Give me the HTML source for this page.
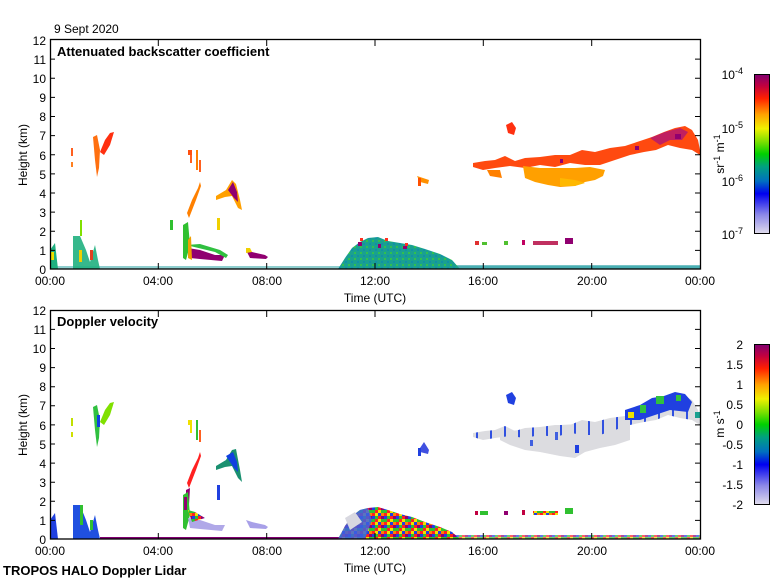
<!DOCTYPE html>
<html><head><meta charset="utf-8"><style>
body{margin:0;background:#fff;}
svg{display:block;font-family:"Liberation Sans",sans-serif;}
</style></head><body>
<svg width="780" height="580" viewBox="0 0 780 580" xmlns="http://www.w3.org/2000/svg">
<defs>
<linearGradient id="cb1" x1="0" y1="1" x2="0" y2="0">
<stop offset="0" stop-color="#e0dcec"/><stop offset="0.12" stop-color="#8a86e8"/><stop offset="0.25" stop-color="#0000f0"/><stop offset="0.33" stop-color="#0070c0"/><stop offset="0.42" stop-color="#00a080"/><stop offset="0.5" stop-color="#00d000"/><stop offset="0.58" stop-color="#80e000"/><stop offset="0.66" stop-color="#f0f000"/><stop offset="0.75" stop-color="#ffa000"/><stop offset="0.85" stop-color="#ff2000"/><stop offset="0.93" stop-color="#c00040"/><stop offset="1" stop-color="#800070"/>
</linearGradient>
<pattern id="mix" width="12" height="9" patternUnits="userSpaceOnUse">
<rect width="12" height="9" fill="#30c030"/>
<rect x="0" y="0" width="3" height="3" fill="#ff2020"/><rect x="3" y="0" width="3" height="3" fill="#f0e000"/><rect x="6" y="0" width="3" height="3" fill="#2040e0"/><rect x="9" y="0" width="3" height="3" fill="#ff8000"/>
<rect x="0" y="3" width="3" height="3" fill="#2040e0"/><rect x="6" y="3" width="3" height="3" fill="#ff2020"/><rect x="9" y="3" width="3" height="3" fill="#900070"/>
<rect x="3" y="6" width="3" height="3" fill="#ff2020"/><rect x="6" y="6" width="3" height="3" fill="#f0e000"/>
</pattern>
<pattern id="teal" width="6" height="6" patternUnits="userSpaceOnUse">
<rect width="6" height="6" fill="#1aa090"/><rect x="0" y="0" width="2" height="2" fill="#30c050"/><rect x="3" y="3" width="2" height="2" fill="#1090a8"/>
</pattern>
<pattern id="bl" width="14" height="6" patternUnits="userSpaceOnUse">
<rect width="14" height="6" fill="#dcdce0"/><rect x="0" y="0" width="2" height="6" fill="#3050e0"/>
</pattern>
</defs>
<text x="54" y="33" font-size="12">9 Sept 2020</text>
<!-- TOP PANEL data -->
<g>
<rect x="50" y="266" width="650" height="3" fill="#20a0a0" opacity="0.5"/>
<rect x="425" y="265" width="275" height="4" fill="#1a9aa0" opacity="0.6"/>
<polygon points="93,137 97,135 100,150 99,168 97,177 95,160" fill="#ff7010"/>
<polygon points="100,152 105,140 110,133 114,132 110,145 104,155" fill="#ff3010"/>
<rect x="71" y="148" width="2" height="8" fill="#ff6020"/><rect x="71" y="162" width="2" height="5" fill="#ff8020"/>
<polygon points="187,213 192,200 198,188 200,182 201,186 196,200 189,218" fill="#ff8000"/>
<rect x="190" y="155" width="2" height="8" fill="#ff6020"/><rect x="196" y="150" width="2" height="20" fill="#ff8000"/><rect x="199" y="160" width="2" height="12" fill="#ff6020"/><rect x="188" y="150" width="4" height="5" fill="#ff5010"/>
<polygon points="216,196 226,190 232,180 236,184 240,200 242,210 238,208 232,196 225,197 216,200" fill="#ffa000"/>
<polygon points="228,190 233,182 237,192 238,202 234,198" fill="#900070"/>
<rect x="217" y="218" width="3" height="12" fill="#f0d000"/>
<polygon points="50,250 55,243 58,269 50,269" fill="#20b080"/>
<polygon points="51,252 54,252 54,260 51,260" fill="#f0e000"/>
<polygon points="73,236 80,236 86,250 90,262 95,245 98,260 100,269 73,269" fill="#20b080" opacity="0.9"/>
<rect x="79" y="250" width="3" height="12" fill="#f0d000"/><rect x="90" y="250" width="3" height="10" fill="#e04020"/>
<rect x="80" y="220" width="2" height="16" fill="#80e000"/>
<polygon points="183,225 188,222 190,245 186,260 183,258" fill="#30c030"/>
<polygon points="188,248 200,250 215,255 225,255 222,261 200,259 190,258" fill="#900070"/>
<polygon points="186,245 200,244 220,250 228,255 226,258 215,252" fill="#30c040"/>
<polygon points="188,240 191,236 192,260 188,258" fill="#f0a000"/>
<polygon points="246,250 252,252 265,255 268,257 266,259 250,258" fill="#900070"/>
<polygon points="246,248 250,248 252,252 246,253" fill="#f0d000"/>
<rect x="170" y="220" width="3" height="10" fill="#30c030"/>
<polygon points="338,269 345,258 352,248 360,242 368,238 378,237 388,241 400,243 412,245 425,249 440,254 452,260 460,269" fill="url(#teal)"/>
<g fill="#900070"><rect x="358" y="242" width="4" height="4"/><rect x="378" y="244" width="3" height="4"/><rect x="403" y="246" width="4" height="3"/></g>
<g fill="#ff3020"><rect x="360" y="238" width="3" height="3"/><rect x="385" y="238" width="3" height="3"/><rect x="405" y="243" width="3" height="3"/></g>
<polygon points="417,176 423,178 429,180 428,184 420,182" fill="#ff9000"/>
<rect x="418" y="178" width="3" height="8" fill="#ff5000"/>
<polygon points="473,163 485,161 495,160 505,156 515,161 525,158 540,157 555,155 570,155 582,150 595,152 610,148 625,146 640,141 652,137 664,132 675,128 685,126 692,130 698,140 700,150 700,155 692,150 680,148 668,145 656,150 644,152 630,155 615,160 600,165 585,165 570,163 555,167 540,165 525,168 510,166 495,168 483,170 473,167" fill="#ff4a10"/>
<polygon points="487,170 500,170 502,178 490,176" fill="#ff8000"/>
<polygon points="506,125 512,122 516,128 514,135 508,133" fill="#ff3010"/>
<polygon points="523,166 540,168 560,168 575,168 590,167 605,170 603,176 595,180 585,182 575,186 560,187 548,185 535,182 525,178" fill="#ffa000"/>
<polygon points="560,178 575,180 585,183 575,186 560,186" fill="#ffb800"/>
<polygon points="650,138 665,132 680,128 688,132 682,140 670,140 660,145" fill="#c02060"/>
<g fill="#900070"><rect x="635" y="146" width="4" height="4"/><rect x="675" y="134" width="6" height="5"/><rect x="560" y="159" width="3" height="4"/></g>
<g fill="#50c030"><rect x="475" y="241" width="4" height="4" fill="#e03030"/><rect x="482" y="242" width="5" height="3"/><rect x="504" y="241" width="4" height="4"/><rect x="522" y="240" width="3" height="5" fill="#c00060"/><rect x="533" y="241" width="25" height="4" fill="#c03060"/><rect x="565" y="238" width="8" height="6" fill="#900070"/></g>
</g>
<!-- top axes -->
<rect x="50.5" y="39.5" width="650" height="229.5" fill="none" stroke="#000" stroke-width="1.3"/>
<g stroke="#000" stroke-width="1">
<path d="M50,250.4h5M50,231.2h5M50,212.1h5M50,193h5M50,173.9h5M50,154.8h5M50,135.6h5M50,116.5h5M50,97.4h5M50,78.3h5M50,59.1h5"/>
<path d="M700,250.4h-5M700,231.2h-5M700,212.1h-5M700,193h-5M700,173.9h-5M700,154.8h-5M700,135.6h-5M700,116.5h-5M700,97.4h-5M700,78.3h-5M700,59.1h-5"/>
<path d="M158.3,269v-6M266.7,269v-6M375,269v-6M483.3,269v-6M591.7,269v-6M158.3,40v6M266.7,40v6M375,40v6M483.3,40v6M591.7,40v6"/>
</g>
<g font-size="12" text-anchor="end">
<text x="46" y="274">0</text><text x="46" y="255">1</text><text x="46" y="236">2</text><text x="46" y="217">3</text><text x="46" y="198">4</text><text x="46" y="179">5</text><text x="46" y="160">6</text><text x="46" y="140">7</text><text x="46" y="121">8</text><text x="46" y="102">9</text><text x="46" y="83">10</text><text x="46" y="64">11</text><text x="46" y="45">12</text>
</g>
<g font-size="12" text-anchor="middle">
<text x="50" y="285">00:00</text><text x="158" y="285">04:00</text><text x="267" y="285">08:00</text><text x="375" y="285">12:00</text><text x="483" y="285">16:00</text><text x="592" y="285">20:00</text><text x="700" y="285">00:00</text>
<text x="375" y="302">Time (UTC)</text>
</g>
<text x="27" y="155" font-size="12" text-anchor="middle" transform="rotate(-90 27 155)">Height (km)</text>
<text x="57" y="56" font-size="13" font-weight="bold">Attenuated backscatter coefficient</text>
<rect x="754.5" y="74.5" width="15" height="159" fill="url(#cb1)" stroke="#000"/>
<g font-size="12" text-anchor="end">
<text x="743" y="79">10<tspan dy="-5" font-size="9">-4</tspan></text>
<text x="743" y="133">10<tspan dy="-5" font-size="9">-5</tspan></text>
<text x="743" y="186">10<tspan dy="-5" font-size="9">-6</tspan></text>
<text x="743" y="239">10<tspan dy="-5" font-size="9">-7</tspan></text>
</g>
<text x="724" y="154" font-size="12" text-anchor="middle" transform="rotate(-90 724 154)">sr<tspan dy="-4" font-size="9">-1</tspan><tspan dy="4"> m</tspan><tspan dy="-4" font-size="9">-1</tspan></text>

<!-- BOTTOM PANEL data -->
<g>
<rect x="100" y="537" width="330" height="2" fill="#800070"/>
<rect x="430" y="535" width="270" height="4" fill="url(#mix)" opacity="0.7"/>
<polygon points="93,407 97,405 100,420 99,438 97,447 95,430" fill="#30c040"/>
<polygon points="100,422 105,410 110,403 114,402 110,415 104,425" fill="#80e000"/>
<rect x="97" y="415" width="3" height="12" fill="#1040e0"/>
<rect x="71" y="418" width="2" height="8" fill="#c0e000"/><rect x="71" y="432" width="2" height="5" fill="#d0e000"/>
<polygon points="187,483 192,470 198,458 200,452 201,456 196,470 189,488" fill="#ff2020"/>
<rect x="190" y="425" width="2" height="8" fill="#f0e000"/><rect x="196" y="420" width="2" height="20" fill="#30c030"/><rect x="199" y="430" width="2" height="12" fill="#ff6020"/><rect x="188" y="420" width="4" height="5" fill="#f0e000"/>
<polygon points="186,490 190,488 189,505 186,503" fill="#900070"/>
<polygon points="216,466 226,460 232,450 236,449 240,470 242,482 238,478 232,466 225,467 216,470" fill="#1a9070"/>
<polygon points="226,456 233,452 237,462 238,472 234,468" fill="#1040e0"/>
<rect x="217" y="485" width="3" height="15" fill="#2040e0"/>
<polygon points="50,520 55,513 58,539 50,539" fill="#2040e0"/>
<polygon points="73,505 80,505 86,520 90,532 95,515 98,530 100,539 73,539" fill="#2050e0"/>
<rect x="80" y="505" width="3" height="20" fill="#30c030"/><rect x="90" y="520" width="3" height="10" fill="#30c030"/>
<polygon points="183,495 188,492 190,515 186,530 183,528" fill="#30c030"/>
<polygon points="184,497 187,497 187,510 184,510" fill="#900070"/>
<polygon points="188,518 200,520 215,525 225,525 222,531 200,529 190,528" fill="#b0a8e8"/>
<polygon points="188,510 195,512 205,518 192,522" fill="url(#mix)"/>
<polygon points="246,520 252,522 265,525 268,527 266,529 250,528" fill="#a8a0e8"/>
<polygon points="338,539 345,526 352,516 360,510 368,508 378,507 388,510 400,514 412,517 425,522 440,527 452,532 460,539" fill="url(#mix)"/>
<polygon points="338,539 345,526 352,516 360,510 368,508 372,520 365,539" fill="#4060e0" opacity="0.85"/>
<polygon points="345,518 355,512 362,522 350,530" fill="#d8d8e0"/>
<polygon points="420,448 424,442 429,450 428,454 420,452" fill="#4050e0"/>
<rect x="418" y="448" width="3" height="8" fill="#2040e0"/>
<polygon points="500,432 520,430 540,428 560,425 580,424 600,422 620,418 630,417 630,440 615,445 600,448 585,452 575,458 560,456 540,452 525,450 510,445 500,440" fill="#dcdce0"/>
<polygon points="473,433 485,431 495,430 505,426 515,431 525,428 540,427 555,425 570,425 582,420 595,422 610,418 625,416 640,411 652,407 664,402 675,398 685,396 692,400 698,410 700,420 700,425 692,420 680,418 668,415 656,420 644,422 630,425 615,430 600,435 585,435 570,433 555,437 540,435 525,438 510,436 495,438 483,440 473,437" fill="url(#bl)"/>
<rect x="575" y="445" width="4" height="8" fill="#2040e0"/><rect x="530" y="440" width="3" height="6" fill="#4060e0"/><rect x="555" y="432" width="3" height="8" fill="#4060e0"/>
<polygon points="506,395 512,392 516,398 514,405 508,403" fill="#2040e0"/>
<polygon points="625,410 640,405 652,398 664,396 675,392 685,394 692,402 688,412 670,410 655,415 640,420 625,420" fill="#2040e0"/>
<g fill="#30c040"><rect x="640" y="405" width="6" height="8"/><rect x="656" y="396" width="8" height="8"/><rect x="676" y="395" width="5" height="6"/><rect x="695" y="412" width="5" height="6" fill="#1aa090"/></g>
<rect x="628" y="412" width="6" height="6" fill="#f0e000"/>
<g><rect x="475" y="511" width="3" height="4" fill="#c00040"/><rect x="480" y="511" width="8" height="4" fill="#30c030"/><rect x="504" y="511" width="4" height="4" fill="#900070"/><rect x="522" y="510" width="3" height="5" fill="#c00040"/><rect x="533" y="511" width="25" height="4" fill="url(#mix)"/><rect x="565" y="508" width="8" height="6" fill="#30c030"/></g>
</g>
<rect x="50.5" y="310.5" width="650" height="228.5" fill="none" stroke="#000" stroke-width="1.3"/>
<g stroke="#000" stroke-width="1">
<path d="M50,520.4h5M50,501.3h5M50,482.2h5M50,463.1h5M50,444h5M50,424.9h5M50,405.8h5M50,386.7h5M50,367.6h5M50,348.5h5M50,329.4h5"/>
<path d="M700,520.4h-5M700,501.3h-5M700,482.2h-5M700,463.1h-5M700,444h-5M700,424.9h-5M700,405.8h-5M700,386.7h-5M700,367.6h-5M700,348.5h-5M700,329.4h-5"/>
<path d="M158.3,539v-6M266.7,539v-6M375,539v-6M483.3,539v-6M591.7,539v-6M158.3,311v6M266.7,311v6M375,311v6M483.3,311v6M591.7,311v6"/>
</g>
<g font-size="12" text-anchor="end">
<text x="46" y="544">0</text><text x="46" y="525">1</text><text x="46" y="506">2</text><text x="46" y="487">3</text><text x="46" y="468">4</text><text x="46" y="449">5</text><text x="46" y="430">6</text><text x="46" y="410">7</text><text x="46" y="391">8</text><text x="46" y="372">9</text><text x="46" y="353">10</text><text x="46" y="334">11</text><text x="46" y="315">12</text>
</g>
<g font-size="12" text-anchor="middle">
<text x="50" y="555">00:00</text><text x="158" y="555">04:00</text><text x="267" y="555">08:00</text><text x="375" y="555">12:00</text><text x="483" y="555">16:00</text><text x="592" y="555">20:00</text><text x="700" y="555">00:00</text>
<text x="375" y="572">Time (UTC)</text>
</g>
<text x="27" y="425" font-size="12" text-anchor="middle" transform="rotate(-90 27 425)">Height (km)</text>
<text x="57" y="326" font-size="13" font-weight="bold">Doppler velocity</text>
<text x="3" y="575" font-size="13" font-weight="bold">TROPOS HALO Doppler Lidar</text>
<rect x="754.5" y="344.5" width="15" height="160" fill="url(#cb1)" stroke="#000"/>
<g font-size="12" text-anchor="end">
<text x="743" y="349">2</text><text x="743" y="369">1.5</text><text x="743" y="389">1</text><text x="743" y="409">0.5</text><text x="743" y="429">0</text><text x="743" y="449">-0.5</text><text x="743" y="469">-1</text><text x="743" y="489">-1.5</text><text x="743" y="509">-2</text>
</g>
<text x="724" y="424" font-size="12" text-anchor="middle" transform="rotate(-90 724 424)">m s<tspan dy="-4" font-size="9">-1</tspan></text>
</svg>
</body></html>
